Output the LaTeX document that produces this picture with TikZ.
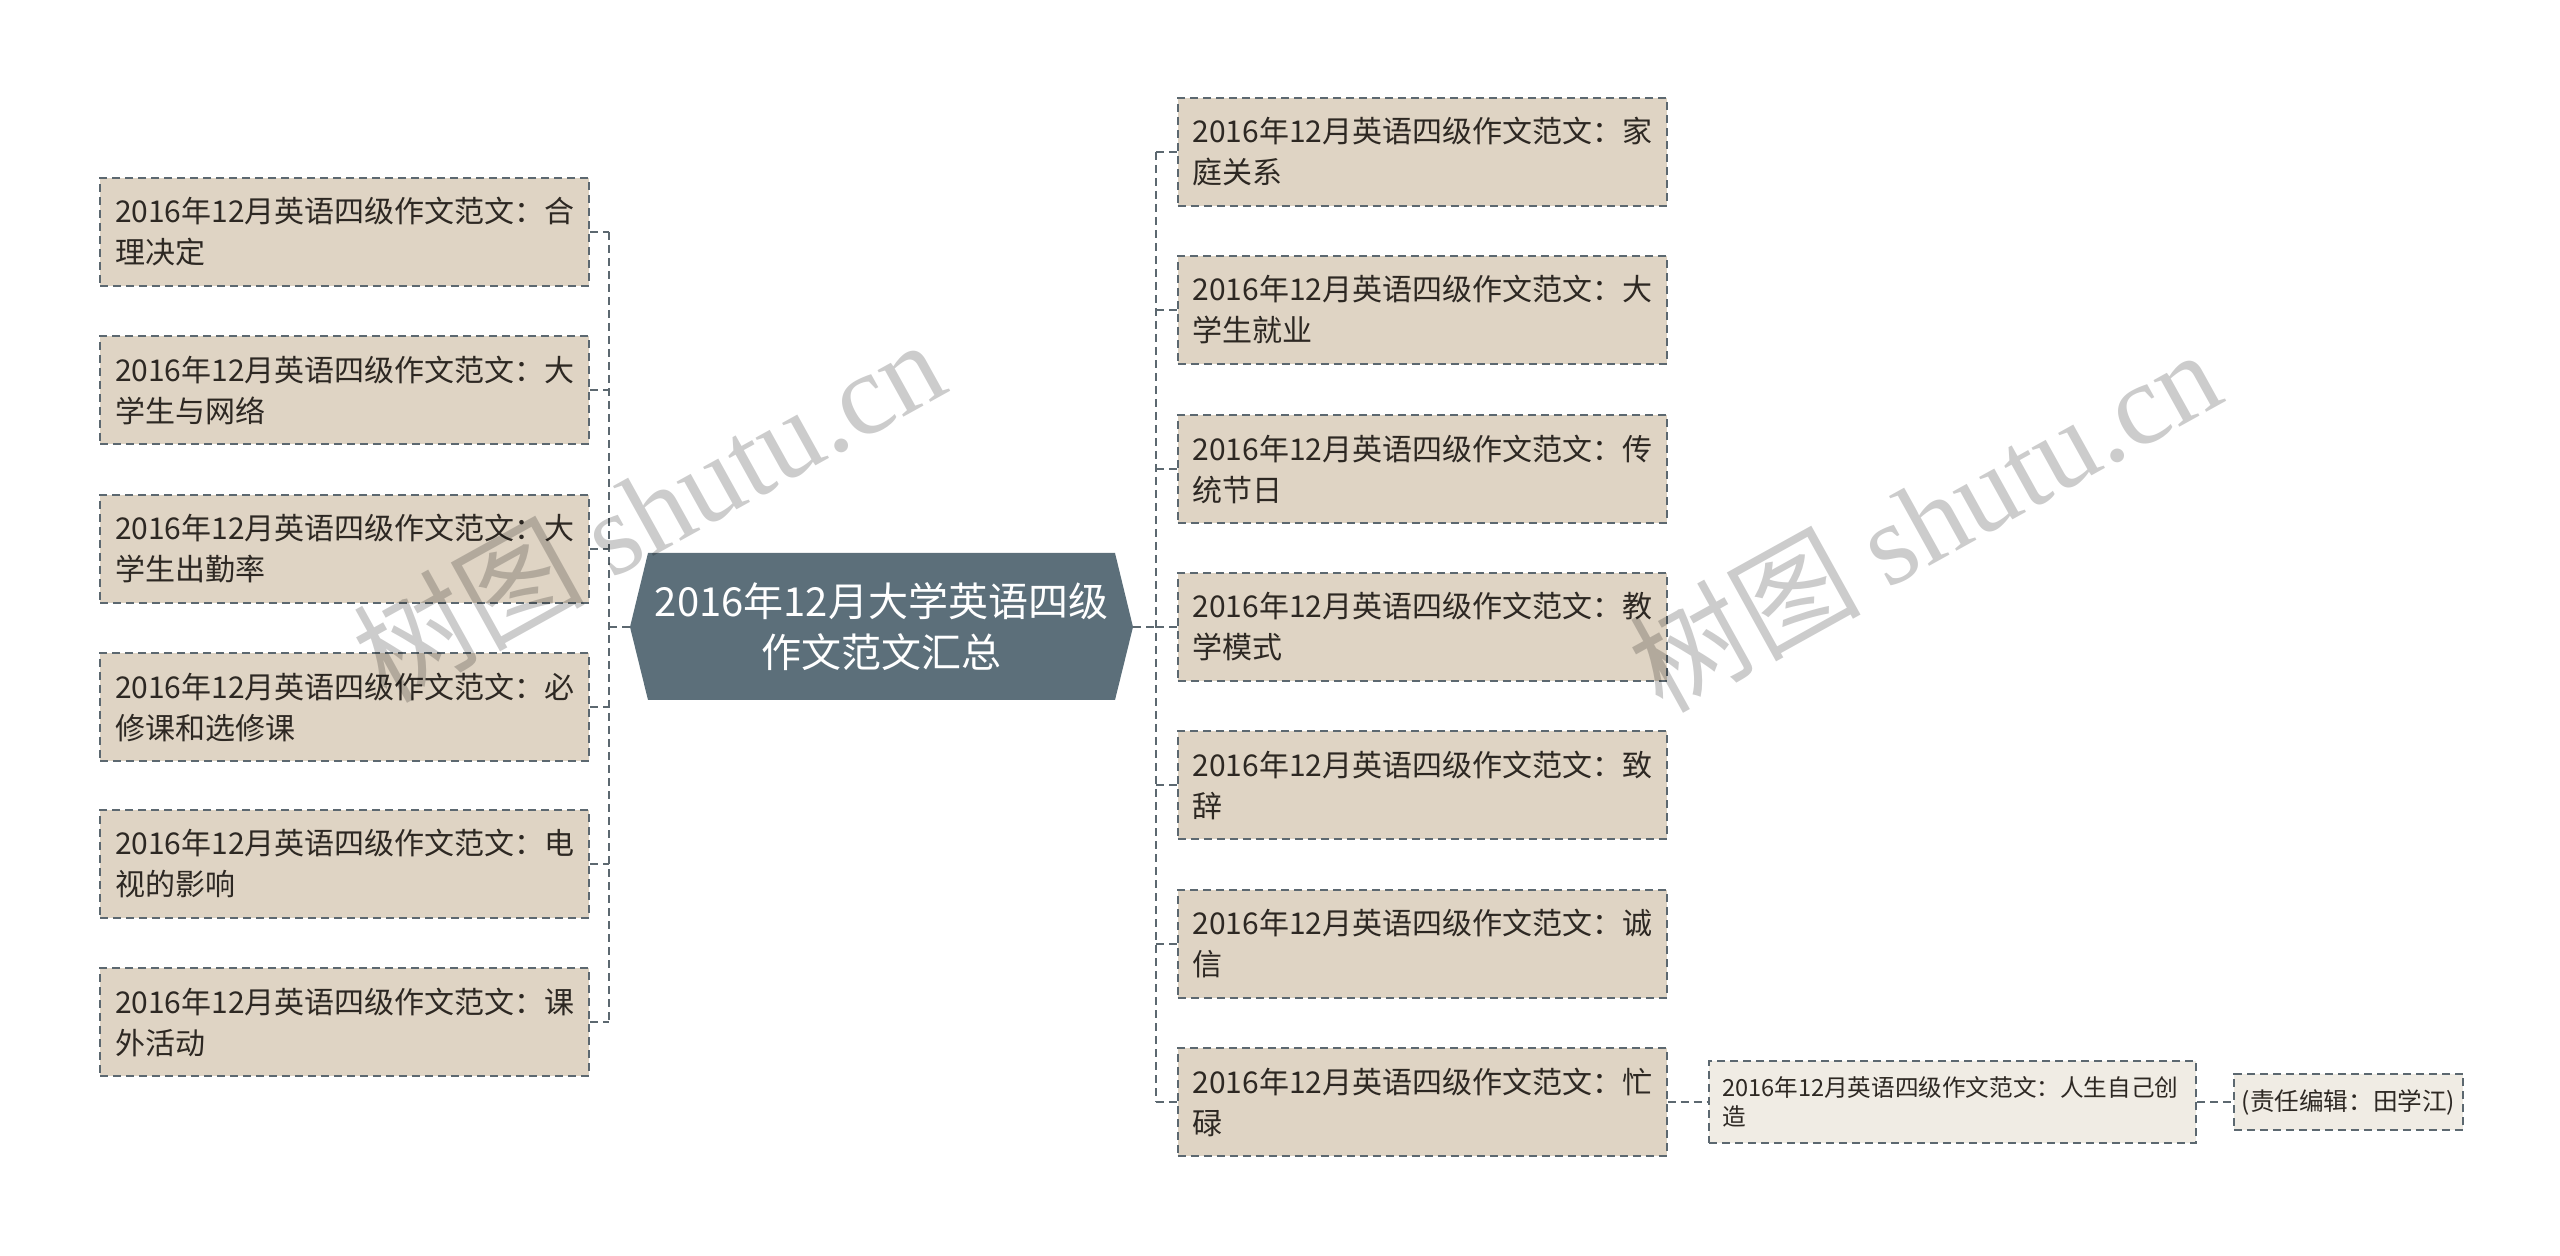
\documentclass[tikz,border=0pt]{standalone}
\usepackage{fontspec}
\setmainfont{Noto Sans CJK SC}
\newfontfamily\wmfont{Liberation Serif}
\newfontfamily\wmcjk{Noto Sans CJK SC}
\definecolor{boxfill}{RGB}{223,212,196}
\definecolor{subfill}{RGB}{240,236,228}
\definecolor{lineclr}{RGB}{92,104,112}
\definecolor{centerfill}{RGB}{92,111,122}
\definecolor{txt}{RGB}{45,40,35}
\tikzset{
  dashline/.style={draw=lineclr, line width=1pt, dash pattern=on 4pt off 2.5pt},
  mainbox/.style={dashline, fill=boxfill, minimum width=244.5pt, minimum height=54pt,
    text width=229.5pt, inner xsep=7.5pt, inner ysep=0pt, align=left,
    font=\fontsize{15pt}{20.5pt}\selectfont, text=txt},
  subbox/.style={dashline, fill=subfill, minimum width=243.5pt, minimum height=41pt,
    text width=230.5pt, inner xsep=6.5pt, inner ysep=0pt, align=left,
    font=\fontsize{11.8pt}{14.7pt}\selectfont, text=txt},
  endbox/.style={dashline, fill=subfill, minimum width=111.5pt, minimum height=28pt,
    inner xsep=4pt, inner ysep=0pt, align=center,
    font=\fontsize{12.3pt}{14.7pt}\selectfont, text=txt},
  conn/.style={dashline},
  watermark/.style={rotate=29, text=black, text opacity=0.2, font=\fontsize{58pt}{60pt}\selectfont},
}
\begin{document}
\begin{tikzpicture}[x=0.5pt, y=-0.5pt]
\useasboundingbox (0,0) rectangle (2560,1256);

% central node
\coordinate (cL) at (630,627);
\coordinate (cR) at (1133,627);
\fill[centerfill] (cL) -- (648,553) -- (1115,553) -- (cR) -- (1115,700) -- (648,700) -- cycle;
\node[text=white, align=center, font=\fontsize{20pt}{25.5pt}\selectfont] (center) at (881.5,627)
  {2016年12月大学英语四级\\作文范文汇总};

% buses
\coordinate (lbus) at (609,627);
\coordinate (rbus) at (1156,627);

% left nodes
\node[mainbox] (l1) at (344.5,232) {2016年12月英语四级作文范文：合\\理决定};
\node[mainbox] (l2) at (344.5,390) {2016年12月英语四级作文范文：大\\学生与网络};
\node[mainbox] (l3) at (344.5,549) {2016年12月英语四级作文范文：大\\学生出勤率};
\node[mainbox] (l4) at (344.5,707) {2016年12月英语四级作文范文：必\\修课和选修课};
\node[mainbox] (l5) at (344.5,864) {2016年12月英语四级作文范文：电\\视的影响};
\node[mainbox] (l6) at (344.5,1022) {2016年12月英语四级作文范文：课\\外活动};

% right nodes
\node[mainbox] (r1) at (1422,152) {2016年12月英语四级作文范文：家\\庭关系};
\node[mainbox] (r2) at (1422,310) {2016年12月英语四级作文范文：大\\学生就业};
\node[mainbox] (r3) at (1422,469) {2016年12月英语四级作文范文：传\\统节日};
\node[mainbox] (r4) at (1422,627) {2016年12月英语四级作文范文：教\\学模式};
\node[mainbox] (r5) at (1422,785) {2016年12月英语四级作文范文：致\\辞};
\node[mainbox] (r6) at (1422,944) {2016年12月英语四级作文范文：诚\\信};
\node[mainbox] (r7) at (1422,1102) {2016年12月英语四级作文范文：忙\\碌};

\node[subbox] (s1) at (1952.5,1102) {2016年12月英语四级作文范文：人生自己创\\造};
\node[endbox] (e1) at (2348.5,1102) {(责任编辑：田学江)};

% connectors left
\draw[conn] (cL) -- (lbus);
\draw[conn] (l1.east -| lbus) -- (l6.east -| lbus);
\foreach \n in {l1,l2,l3,l4,l5,l6} {\draw[conn] (\n.east) -- (\n.east -| lbus);}
% connectors right
\draw[conn] (cR) -- (rbus);
\draw[conn] (r1.west -| rbus) -- (r7.west -| rbus);
\foreach \n in {r1,r2,r3,r4,r5,r6,r7} {\draw[conn] (\n.west -| rbus) -- (\n.west);}
\draw[conn] (r7.east) -- (s1.west);
\draw[conn] (s1.east) -- (e1.west);

% watermarks
\node[watermark] (wm1) at (648,509) {\wmcjk 树图 \wmfont shutu.cn};
\node[watermark] (wm2) at (1924,519) {\wmcjk 树图 \wmfont shutu.cn};
\end{tikzpicture}
\end{document}
